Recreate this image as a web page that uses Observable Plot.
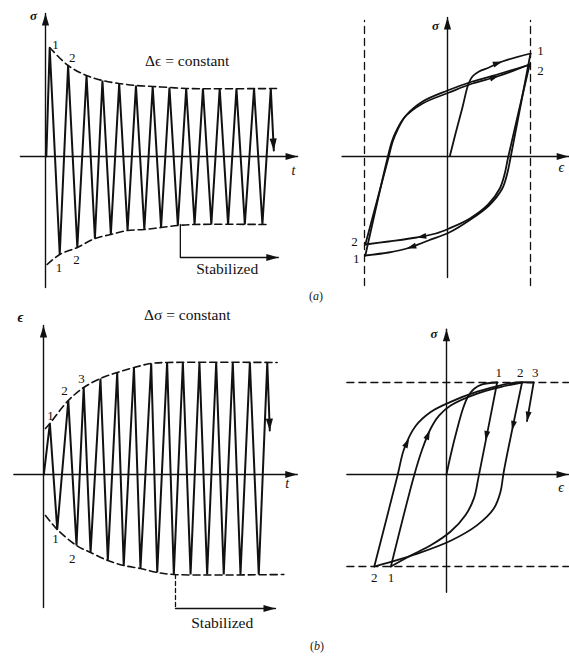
<!DOCTYPE html>
<html><head><meta charset="utf-8">
<script src="https://cdn.jsdelivr.net/npm/d3@7"></script>
<script src="https://cdn.jsdelivr.net/npm/@observablehq/plot@0.6"></script>
<style>
body{margin:0;background:#fff;}
#fig{position:relative;width:569px;height:657px;overflow:hidden;background:#fff;font-family:"Liberation Serif","DejaVu Serif",serif;}
.panel{position:absolute;}
.cap{position:absolute;font-size:12px;color:#1a1a1a;font-family:"Liberation Serif","DejaVu Serif",serif;}
</style></head><body>
<div id="fig">
  <div class="panel" id="tl" style="left:0;top:0"></div>
  <div class="panel" id="tr" style="left:300px;top:0"></div>
  <div class="panel" id="bl" style="left:0;top:300px"></div>
  <div class="panel" id="br" style="left:300px;top:300px"></div>
  <div class="cap" style="left:309px;top:289px">(<i>a</i>)</div>
  <div class="cap" style="left:310px;top:639px">(<i>b</i>)</div>
</div>
<script>
// ================= DATA =================
// (a) left : stress σ vs time t (cycles) under constant strain range
const aPeakT   = [0.25, 1.35, 2.45, 3.4, 4.4, 5.4, 6.4, 7.4, 8.4, 9.4, 10.4, 11.4, 12.45, 13.45];
const aPeakS   = [1.09, 0.91, 0.81, 0.76, 0.73, 0.71, 0.70, 0.69, 0.68, 0.68, 0.68, 0.68, 0.68, 0.68];
const aValleyT = [0.85, 1.9, 2.95, 3.9, 4.9, 5.9, 6.9, 7.9, 8.9, 9.9, 10.9, 11.9, 12.95];
const aValleyS = [-0.98, -0.91, -0.82, -0.78, -0.74, -0.73, -0.71, -0.69, -0.68, -0.68, -0.68, -0.68, -0.68];
const aStart = [0.05, 0];
const aEnd = [13.63, 0.06];
const aUpperEnvT = [0.25, 1.35, 2.45, 3.4, 4.4, 5.4, 6.4, 7.4, 8.4, 13.85];
const aUpperEnvS = [1.09, 0.91, 0.81, 0.76, 0.73, 0.71, 0.70, 0.69, 0.68, 0.68];
const aLowerEnvT = [0.1, 0.85, 1.9, 2.95, 3.9, 4.9, 5.9, 6.9, 7.9, 8.9, 13.35];
const aLowerEnvS = [-1.08, -0.98, -0.91, -0.82, -0.78, -0.74, -0.73, -0.71, -0.69, -0.68, -0.68];
const aStabT = [8.05, 8.05, 13.9];
const aStabS = [-0.68, -1.01, -1.01];
const aAxisT = [-1.5, 15.05];
const aAxisS = [-1.31, 1.43];
const aLabelT = [0.6, 1.59, 0.8, 1.85];
const aLabelS = [1.12, 0.99, -1.11, -1.03];
const aLabels = ["1", "2", "1", "2"];

// (a) right : σ–ε hysteresis loops (ε normalised to strain limits ±1)
const trLoad0   = [[0.03,0.01],[0.1,0.24],[0.18,0.49],[0.25,0.72],[0.3,0.8],[0.38,0.85],[0.5,0.89],[0.66,0.95],[1.0,1.03]];
const trUnload1 = [[1.0,1.03],[0.76,-0.01],[0.72,-0.17],[0.66,-0.32],[0.5,-0.49],[0.26,-0.64],[0.02,-0.76],[-0.23,-0.84],[-0.49,-0.92],[-0.71,-0.96],[-0.99,-0.99]];
const trReload1 = [[-0.99,-0.99],[-0.73,-0.04],[-0.67,0.15],[-0.62,0.25],[-0.52,0.39],[-0.3,0.53],[0.02,0.64],[0.3,0.73],[0.6,0.8],[0.99,0.92]];
const trUnload2 = [[0.99,0.92],[0.73,-0.01],[0.69,-0.17],[0.63,-0.32],[0.49,-0.48],[0.27,-0.62],[0.02,-0.72],[-0.14,-0.77],[-0.37,-0.81],[-0.71,-0.85],[-0.99,-0.88]];
const trReload2 = [[-0.99,-0.88],[-0.72,-0.04],[-0.66,0.15],[-0.6,0.27],[-0.5,0.41],[-0.3,0.55],[0.0,0.66],[0.3,0.75],[0.6,0.82],[0.99,0.92]];
const trArrowE = [0.66, 0.62, -0.37, -0.49];
const trArrowS = [0.95, 0.81, -0.81, -0.92];
const trArrowA = [71, 70, 260, 253];
const trLimitE = [-1, 1];
const trLimitS = [-1.29, 1.36];
const trAxisE = [-1.27, 1.46];
const trAxisS = [-1.21, 1.39];
const trLabelE = [1.12, 1.12, -1.12, -1.1];
const trLabelS = [1.06, 0.86, -0.85, -1.02];
const trLabels = ["1", "2", "2", "1"];

// (b) left : strain ε vs time t under constant stress range
const bPeakT   = [0.38, 1.48, 2.4, 3.4, 4.4, 5.4, 6.43, 7.38, 8.32, 9.31, 10.31, 11.3, 12.32, 13.36];
const bPeakE   = [0.51, 0.74, 0.87, 0.96, 1.02, 1.07, 1.11, 1.12, 1.12, 1.12, 1.12, 1.12, 1.12, 1.12];
const bValleyT = [0.82, 1.97, 2.81, 3.84, 4.79, 5.79, 6.79, 7.78, 8.78, 9.77, 10.76, 11.76, 12.85];
const bValleyE = [-0.55, -0.71, -0.78, -0.86, -0.91, -0.94, -0.98, -1.0, -1.0, -1.0, -1.0, -1.0, -1.0];
const bStart = [0.02, 0];
const bEnd = [13.51, 0.44];
const bUpperEnvT = [0.12, 0.38, 1.48, 2.4, 3.4, 4.4, 5.4, 6.43, 7.38, 13.95];
const bUpperEnvE = [0.46, 0.51, 0.74, 0.87, 0.96, 1.02, 1.07, 1.11, 1.12, 1.12];
const bLowerEnvT = [0.12, 0.82, 1.97, 2.81, 3.84, 4.79, 5.79, 6.79, 7.78, 14.35];
const bLowerEnvE = [-0.41, -0.55, -0.71, -0.78, -0.86, -0.91, -0.94, -0.98, -1.0, -1.0];
const bStabT = [7.88, 7.88, 13.85];
const bStabE = [-1.0, -1.34, -1.34];
const bAxisT = [-1.77, 15.15];
const bAxisE = [-1.33, 1.49];
const bLabelT = [0.42, 1.25, 2.27, 0.72, 1.71];
const bLabelE = [0.59, 0.84, 0.96, -0.64, -0.84];
const bLabels = ["1", "2", "3", "1", "2"];

// (b) right : σ–ε loops (σ normalised to stress limits ±1), ratcheting
const brLoad0   = [[0,0],[0.05,0.21],[0.13,0.5],[0.2,0.72],[0.26,0.85],[0.33,0.93],[0.43,0.98],[0.61,1.0]];
const brUnload1 = [[0.61,1.0],[0.39,-0.01],[0.33,-0.26],[0.23,-0.44],[0.05,-0.62],[-0.19,-0.77],[-0.43,-0.88],[-0.67,-1.0]];
const brReload1 = [[-0.67,-1.0],[-0.39,-0.01],[-0.29,0.28],[-0.19,0.5],[-0.09,0.64],[0.05,0.75],[0.37,0.88],[0.65,0.95],[0.91,1.0]];
const brUnload2 = [[0.91,1.0],[0.69,0.03],[0.65,-0.19],[0.57,-0.37],[0.37,-0.55],[0.05,-0.72],[-0.35,-0.86],[-0.67,-0.95],[-0.87,-1.0]];
const brReload2 = [[-0.87,-1.0],[-0.59,-0.01],[-0.51,0.28],[-0.37,0.53],[-0.19,0.68],[0.05,0.79],[0.37,0.9],[0.65,0.97],[0.85,1.0],[1.05,1.0]];
const brDrop    = [[1.05,1.0],[0.97,0.58]];
const brArrowE = [-0.45, -0.2, 0.47, 0.79];
const brArrowS = [0.39, 0.48, 0.37, 0.48];
const brArrowA = [27, 23, 191, 192];
const brLimitS = [-1, 1];
const brAxisE = [-1.2, 1.47];
const brAxisS = [-1.28, 1.58];
const brLabelE = [0.63, 0.89, 1.07, -0.87, -0.67];
const brLabelS = [1.11, 1.11, 1.11, -1.12, -1.12];
const brLabels = ["1", "2", "3", "2", "1"];

// ================= HELPERS =================
const ink = "#111";
const serif = "Liberation Serif, Times New Roman, DejaVu Serif, serif";
const headAxis  = {draw(c){ c.moveTo(0,0); c.lineTo(-3.6,12); c.lineTo(3.6,12); c.closePath(); }};
const headCurve = {draw(c){ c.moveTo(0,0); c.lineTo(-3,9.5); c.lineTo(3,9.5); c.closePath(); }};

const pts = (xs, ys) => xs.map((x, i) => ({x, y: ys[i]}));
const pairs = (arr) => arr.map(([x, y]) => ({x, y}));
function zig(start, px, py, vx, vy, end) {
  const out = [{x: start[0], y: start[1]}];
  px.forEach((x, i) => {
    out.push({x, y: py[i]});
    if (i < vx.length) out.push({x: vx[i], y: vy[i]});
  });
  out.push({x: end[0], y: end[1]});
  return out;
}
const L = (data, o = {}) => Plot.line(data, {x: "x", y: "y", stroke: ink, strokeWidth: 1.8, strokeLinejoin: "miter", ...o});
const H = (xs, ys, as, sym) => Plot.dot(xs.map((x, i) => ({x, y: ys[i], a: as[i]})),
  {x: "x", y: "y", rotate: "a", symbol: sym, fill: ink, stroke: "none"});
const T = (xs, ys, texts, o = {}) => Plot.text(texts.map((t, i) => ({x: xs[i], y: ys[i], t})),
  {x: "x", y: "y", text: "t", fontSize: 13, fontFamily: serif, fill: ink, ...o});
const dash = {strokeDasharray: "7,4", strokeWidth: 1.6};
const axisW = {strokeWidth: 1.4};

function panel(id, w, h, xs, ys, marks) {
  const p = Plot.plot({
    width: w, height: h, margin: 0,
    x: {...xs, axis: null}, y: {...ys, axis: null},
    style: {background: "transparent", overflow: "visible"},
    marks
  });
  document.getElementById(id).appendChild(p);
}

// ================= (a) LEFT =================
panel("tl", 300, 300,
  {domain: [0, 15], range: [45, 296.25]},
  {domain: [-1, 1], range: [256, 56]},
  [
    L(pts(aAxisT, [0, 0]), axisW),
    L(pts([0, 0], aAxisS), axisW),
    H([aAxisT[1], 0], [0, aAxisS[1]], [90, 0], headAxis),
    L(pts(aUpperEnvT, aUpperEnvS), {...dash, curve: "catmull-rom"}),
    L(pts(aLowerEnvT, aLowerEnvS), {...dash, curve: "catmull-rom"}),
    L(zig(aStart, aPeakT, aPeakS, aValleyT, aValleyS, aEnd), {strokeWidth: 2}),
    H([aEnd[0]], [aEnd[1]], [177], headAxis),
    L(pts(aStabT, aStabS), {strokeWidth: 1.3}),
    H([aStabT[2]], [aStabS[2]], [90], headAxis),
    T(aLabelT, aLabelS, aLabels),
    T([8.46], [0.957], ["Δϵ = constant"], {fontSize: 15.5}),
    T([10.85], [-1.127], ["Stabilized"], {fontSize: 15.5}),
    T([-0.72], [1.41], ["σ"], {fontStyle: "italic", fontWeight: "bold"}),
    T([14.8], [-0.14], ["t"], {fontStyle: "italic", fontSize: 14})
  ]);

// ================= (a) RIGHT =================
panel("tr", 269, 300,
  {domain: [-1, 1], range: [64, 230]},
  {domain: [-1, 1], range: [256, 56]},
  [
    L(pts([trLimitE[0], trLimitE[0]], trLimitS), {strokeDasharray: "7,5", strokeWidth: 1.3}),
    L(pts([trLimitE[1], trLimitE[1]], trLimitS), {strokeDasharray: "7,5", strokeWidth: 1.3}),
    L(pts(trAxisE, [0, 0]), axisW),
    L(pts([0, 0], trAxisS), axisW),
    H([trAxisE[1], 0], [0, trAxisS[1]], [90, 0], headAxis),
    L(pairs(trLoad0), {curve: "catmull-rom"}),
    L(pairs(trUnload1), {curve: "catmull-rom"}),
    L(pairs(trReload1), {curve: "catmull-rom"}),
    L(pairs(trUnload2), {curve: "catmull-rom"}),
    L(pairs(trReload2), {curve: "catmull-rom"}),
    H(trArrowE, trArrowS, trArrowA, headCurve),
    T(trLabelE, trLabelS, trLabels),
    T([-0.145], [1.31], ["σ"], {fontStyle: "italic", fontWeight: "bold"}),
    T([1.37], [-0.11], ["ϵ"], {fontStyle: "italic", fontSize: 14})
  ]);

// ================= (b) LEFT =================
panel("bl", 300, 357,
  {domain: [0, 15], range: [43, 294.25]},
  {domain: [-1, 1], range: [274, 74]},
  [
    L(pts(bAxisT, [0, 0]), axisW),
    L(pts([0, 0], bAxisE), axisW),
    H([bAxisT[1], 0], [0, bAxisE[1]], [90, 0], headAxis),
    L(pts(bUpperEnvT, bUpperEnvE), {...dash, curve: "catmull-rom"}),
    L(pts(bLowerEnvT, bLowerEnvE), {...dash, curve: "catmull-rom"}),
    L(zig(bStart, bPeakT, bPeakE, bValleyT, bValleyE, bEnd), {strokeWidth: 2}),
    H([bEnd[0]], [bEnd[1]], [178], headAxis),
    L(pts(bStabT.slice(0, 2), bStabE.slice(0, 2)), {strokeWidth: 1.3, strokeDasharray: "4,3"}),
    L(pts(bStabT.slice(1), bStabE.slice(1)), {strokeWidth: 1.3}),
    H([bStabT[2]], [bStabE[2]], [90], headAxis),
    T(bLabelT, bLabelE, bLabels),
    T([8.58], [1.59], ["Δσ = constant"], {fontSize: 15.5}),
    T([10.67], [-1.49], ["Stabilized"], {fontSize: 15.5}),
    T([-1.37], [1.57], ["ϵ"], {fontStyle: "italic", fontWeight: "bold", fontSize: 14}),
    T([14.55], [-0.09], ["t"], {fontStyle: "italic", fontSize: 14})
  ]);

// ================= (b) RIGHT =================
panel("br", 269, 357,
  {domain: [-1, 1], range: [63, 229]},
  {domain: [-1, 1], range: [266, 82]},
  [
    L(pts(brAxisE, [brLimitS[0], brLimitS[0]]), {strokeDasharray: "7,5", strokeWidth: 1.4}),
    L(pts(brAxisE, [brLimitS[1], brLimitS[1]]), {strokeDasharray: "7,5", strokeWidth: 1.4}),
    L(pts(brAxisE, [0, 0]), axisW),
    L(pts([0, 0], brAxisS), axisW),
    H([brAxisE[1], 0], [0, brAxisS[1]], [90, 0], headAxis),
    L(pairs(brLoad0), {curve: "catmull-rom"}),
    L(pairs(brUnload1), {curve: "catmull-rom"}),
    L(pairs(brReload1), {curve: "catmull-rom"}),
    L(pairs(brUnload2), {curve: "catmull-rom"}),
    L(pairs(brReload2), {curve: "catmull-rom"}),
    L(pairs(brDrop), {}),
    H([brDrop[1][0]], [brDrop[1][1]], [190], headCurve),
    H(brArrowE, brArrowS, brArrowA, headCurve),
    T(brLabelE, brLabelS, brLabels),
    T([-0.15], [1.53], ["σ"], {fontStyle: "italic", fontWeight: "bold"}),
    T([1.38], [-0.14], ["ϵ"], {fontStyle: "italic", fontSize: 14})
  ]);
</script>
</body></html>
